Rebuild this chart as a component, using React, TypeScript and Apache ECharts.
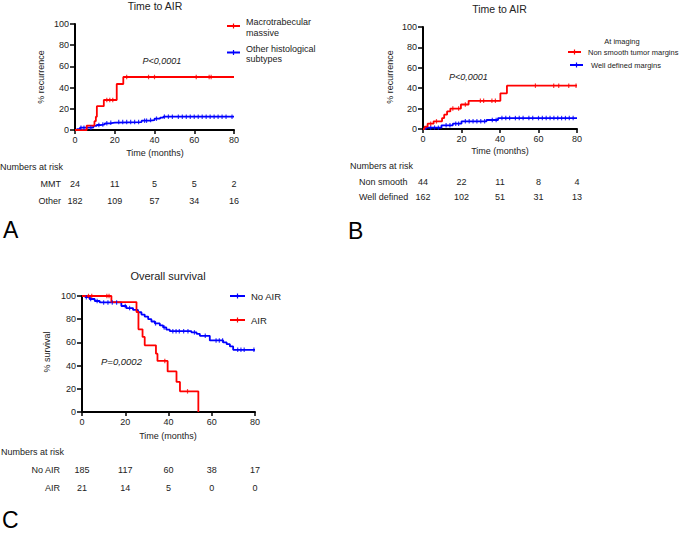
import React, { useEffect, useRef } from "react";
import * as echarts from "echarts";

// ---------- data ----------
const xTicks = [0, 20, 40, 60, 80];

// Panel A: Time to AIR (% recurrence)
const A_mmt: [number, number][] = [
  [0, 0], [5.9, 4.2], [9.8, 8.3], [10.5, 12.5], [11, 22.5], [14.5, 28.3],
  [21, 43.4], [24.3, 50], [80, 50],
];
const A_mmtCensor = [16, 17.5, 19, 26, 37, 40, 61, 67.5, 68.5];
const A_other: [number, number][] = [
  [0, 0], [1, 0.9], [2.5, 2.2], [9.2, 3.8], [10.9, 4.7], [12.8, 5.3],
  [15, 6.3], [17.6, 6.9], [20, 7.5], [33.5, 8.8], [37.7, 9.4], [40, 10.7],
  [42.8, 11.6], [44.4, 12.6], [80, 12.6],
];
const A_otherCensor = [3, 4.5, 8, 12, 14, 16, 18, 22, 24, 26, 28, 30, 32, 35, 36, 38,
  41, 45, 47, 49, 52, 54, 56, 58, 60, 62, 64, 66, 68, 70, 72, 74, 76, 79];

// Panel B: Time to AIR by imaging margins
const B_non: [number, number][] = [
  [0, 0], [0.8, 2.3], [2.4, 5.2], [5.5, 7.5], [9.9, 10.7], [11, 14], [12.5, 17.2],
  [14.2, 20], [19.7, 24], [23.7, 27.6], [40.2, 35], [43.6, 42.5], [80, 42.5],
];
const B_nonCensor = [4, 7, 15.5, 18.5, 22, 29.8, 31.5, 35.8, 37.6, 58.4, 67.9, 70.5, 75.7, 79.5];
const B_well: [number, number][] = [
  [0, 0], [1.5, 1.3], [9.6, 3.6], [15.5, 5.2], [20, 7.5], [33, 8.8], [39, 10.7], [80, 10.7],
];
const B_wellCensor = [4, 6, 8, 12, 14, 17, 18.5, 22, 24, 26, 28, 30, 32, 36, 38, 41, 43, 45,
  48, 50, 52, 55, 57, 60, 62, 64, 66, 68, 70, 72, 74, 76, 78];

// Panel C: Overall survival
const C_noAir: [number, number][] = [
  [0, 100], [1.5, 99], [3.5, 97.4], [5.9, 95.7], [8.2, 94.5], [18.2, 91.4], [20.5, 89.6],
  [23.6, 88], [25.9, 86], [27.5, 84], [29, 82.3], [30.6, 80], [32.1, 78], [33.7, 76.4],
  [36, 74.6], [37.5, 72.9], [39, 71], [40.6, 69.7], [50.6, 68.6], [53, 67.4], [54.5, 65.7],
  [59.1, 61.7], [65.3, 60], [66.9, 58.5], [68.4, 56.5], [69.9, 53.6], [80, 53.6],
];
const C_noAirCensor = [2, 4, 7, 10, 12, 14, 16, 20, 22, 34, 38, 42, 43.5, 45, 47, 49, 52,
  57, 62, 63.5, 65, 72, 73.5, 75, 79.5];
const C_air: [number, number][] = [
  [0, 100], [13.6, 94.8], [25.2, 86.2], [26.1, 71.3], [28, 64.7], [29, 57.5], [34.2, 50.3],
  [34.9, 44], [39.6, 35], [43.7, 25.9], [45.3, 17.8], [53.8, 0],
];
const C_airCensor = [3, 4.5, 11.5, 12.5, 38.3, 48.8];

// Numbers at risk
const riskA_MMT = [24, 11, 5, 5, 2];
const riskA_Other = [182, 109, 57, 34, 16];
const riskB_Non = [44, 22, 11, 8, 4];
const riskB_Well = [162, 102, 51, 31, 13];
const riskC_NoAIR = [185, 117, 60, 38, 17];
const riskC_AIR = [21, 14, 5, 0, 0];

const RED = "#ff0000";
const BLUE = "#0000ff";
const FONT = "Liberation Sans, Arial, sans-serif";

function stepAt(d: [number, number][], t: number): number {
  let v = d[0][1];
  for (const [x, y] of d) {
    if (x <= t) v = y;
  }
  return v;
}

function curve(d: [number, number][], color: string, idx: number) {
  return {
    type: "line",
    xAxisIndex: idx,
    yAxisIndex: idx,
    step: "end",
    data: d,
    showSymbol: false,
    symbol: "none",
    lineStyle: { color, width: 1.8 },
    z: 3,
  };
}

function censor(d: [number, number][], times: number[], color: string, idx: number) {
  return {
    type: "scatter",
    xAxisIndex: idx,
    yAxisIndex: idx,
    data: times.map((t) => [t, stepAt(d, t)]),
    symbol: "rect",
    symbolSize: [1.2, 4.5],
    itemStyle: { color },
    z: 4,
  };
}

function txt(x: number, y: number, text: string, o: any = {}) {
  return {
    type: "text",
    x,
    y,
    rotation: o.rotation || 0,
    style: {
      text,
      fontSize: o.size || 9,
      fontFamily: FONT,
      fontStyle: o.italic ? "italic" : "normal",
      fill: o.color || "#222",
      align: o.align || "left",
      verticalAlign: "middle",
    },
  };
}

function legendMark(x1: number, x2: number, y: number, color: string) {
  return [
    { type: "line", shape: { x1, y1: y, x2, y2: y }, style: { stroke: color, lineWidth: 2 } },
    {
      type: "line",
      shape: { x1: (x1 + x2) / 2, y1: y - 2.5, x2: (x1 + x2) / 2, y2: y + 2.5 },
      style: { stroke: color, lineWidth: 1.2 },
    },
  ];
}

const grids = [
  { left: 75, top: 24, width: 159, height: 106 },
  { left: 423, top: 27, width: 154, height: 102 },
  { left: 82, top: 296, width: 173, height: 116 },
];

function axisX(i: number) {
  return {
    type: "value",
    gridIndex: i,
    min: 0,
    max: 80,
    interval: 20,
    axisLine: { show: true, onZero: false, lineStyle: { color: "#000", width: 2 } },
    axisTick: { show: true, length: 4, lineStyle: { color: "#000", width: 1.5 } },
    axisLabel: { fontSize: 9, color: "#222", margin: 5, fontFamily: FONT },
    splitLine: { show: false },
  };
}
function axisY(i: number) {
  return {
    type: "value",
    gridIndex: i,
    min: 0,
    max: 100,
    interval: 20,
    axisLine: { show: true, onZero: false, lineStyle: { color: "#000", width: 2 } },
    axisTick: { show: true, length: 5, lineStyle: { color: "#000", width: 1.5 } },
    axisLabel: { fontSize: 9, color: "#222", margin: 6, fontFamily: FONT },
    splitLine: { show: false },
  };
}

export default function App() {
  const ref = useRef<HTMLDivElement>(null);
  useEffect(() => {
    if (!ref.current) return;
    const chart = echarts.init(ref.current, null, { renderer: "svg" });
    chart.setOption({
      animation: false,
      backgroundColor: "#fff",
      grid: grids,
      xAxis: [axisX(0), axisX(1), axisX(2)],
      yAxis: [axisY(0), axisY(1), axisY(2)],
      series: [
        curve(A_other, BLUE, 0),
        censor(A_other, A_otherCensor, BLUE, 0),
        curve(A_mmt, RED, 0),
        censor(A_mmt, A_mmtCensor, RED, 0),
        curve(B_well, BLUE, 1),
        censor(B_well, B_wellCensor, BLUE, 1),
        curve(B_non, RED, 1),
        censor(B_non, B_nonCensor, RED, 1),
        curve(C_noAir, BLUE, 2),
        censor(C_noAir, C_noAirCensor, BLUE, 2),
        curve(C_air, RED, 2),
        censor(C_air, C_airCensor, RED, 2),
      ],
    });

    const px = (i: number, t: number) =>
      chart.convertToPixel({ xAxisIndex: i } as any, t) as unknown as number;

    const riskRow = (i: number, vals: number[], y: number) =>
      vals.map((v, k) => txt(px(i, xTicks[k]), y, String(v), { align: "center" }));

    const g: any[] = [
      // Panel A
      txt(155, 6, "Time to AIR", { size: 10.5, align: "center" }),
      txt(41, 77, "% recurrence", { rotation: Math.PI / 2, align: "center" }),
      txt(155, 153, "Time (months)", { align: "center" }),
      txt(142.5, 61, "P<0,0001", { italic: true }),
      ...legendMark(227, 240, 26, RED),
      txt(246, 22, "Macrotrabecular"),
      txt(246, 32.5, "massive"),
      ...legendMark(227, 240, 52.5, BLUE),
      txt(246, 48.5, "Other histological"),
      txt(246, 59, "subtypes"),
      txt(0, 167, "Numbers at risk"),
      txt(61, 184, "MMT", { align: "right" }),
      txt(61, 201, "Other", { align: "right" }),
      ...riskRow(0, riskA_MMT, 184),
      ...riskRow(0, riskA_Other, 201),
      txt(3, 230, "A", { size: 23, color: "#000" }),

      // Panel B
      txt(499.5, 8.5, "Time to AIR", { size: 10.5, align: "center" }),
      txt(390, 77, "% recurrence", { rotation: Math.PI / 2, align: "center" }),
      txt(500, 151, "Time (months)", { align: "center" }),
      txt(449, 77, "P<0,0001", { italic: true }),
      txt(622, 41, "At imaging", { size: 7.5, align: "center" }),
      ...legendMark(568, 581, 52, RED),
      txt(588, 52, "Non smooth tumor margins", { size: 7.5 }),
      ...legendMark(570, 583, 65, BLUE),
      txt(591, 65, "Well defined margins", { size: 7.5 }),
      txt(350, 166, "Numbers at risk"),
      txt(359, 182, "Non smooth"),
      txt(359, 197, "Well defined"),
      ...riskRow(1, riskB_Non, 182),
      ...riskRow(1, riskB_Well, 197),
      txt(348, 231, "B", { size: 23, color: "#000" }),

      // Panel C
      txt(168, 276, "Overall survival", { size: 11, align: "center" }),
      txt(47, 352, "% survival", { rotation: Math.PI / 2, align: "center" }),
      txt(168, 436, "Time (months)", { align: "center" }),
      txt(101, 361, "P=0,0002", { italic: true, size: 9.5 }),
      ...legendMark(230, 245, 296, BLUE),
      txt(251, 296, "No AIR", { size: 9.5 }),
      ...legendMark(230, 245, 320, RED),
      txt(251, 320, "AIR", { size: 9.5 }),
      txt(1, 452, "Numbers at risk"),
      txt(60, 470, "No AIR", { align: "right" }),
      txt(60, 488, "AIR", { align: "right" }),
      ...riskRow(2, riskC_NoAIR, 470),
      ...riskRow(2, riskC_AIR, 488),
      txt(2, 520, "C", { size: 23, color: "#000" }),
    ];
    chart.setOption({ graphic: g });
    return () => chart.dispose();
  }, []);
  return (
    <div
      ref={ref}
      style={{ position: "absolute", left: 0, top: 0, width: 685, height: 540, background: "#fff" }}
    />
  );
}
